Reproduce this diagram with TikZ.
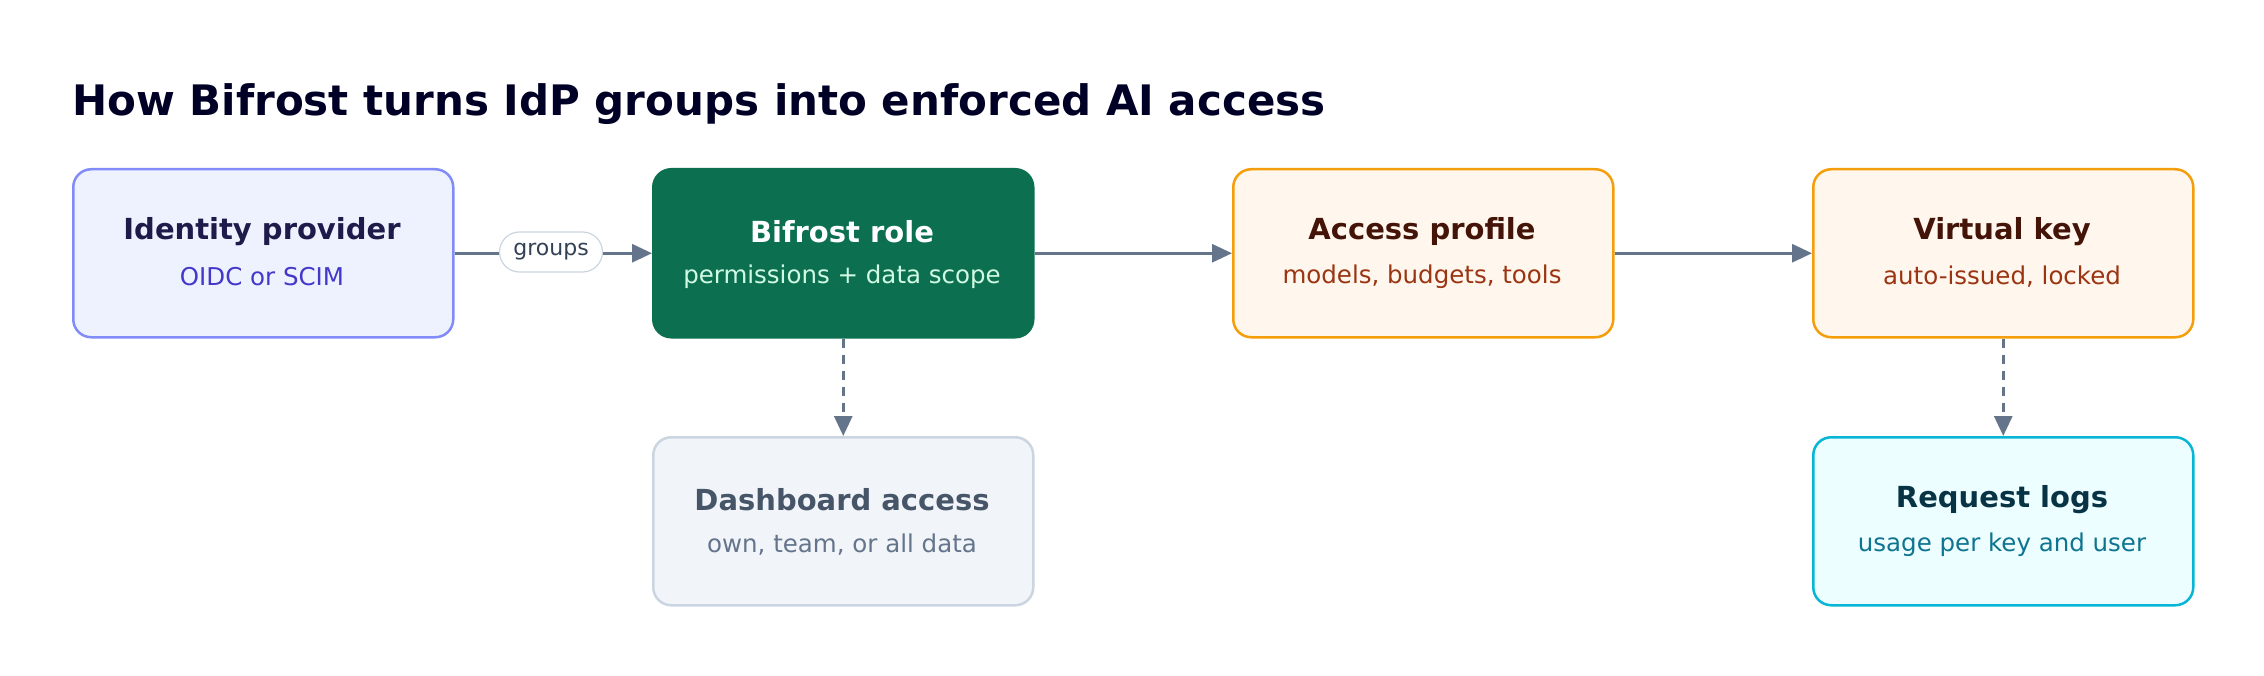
\documentclass[tikz,border=0pt]{standalone}
\usepackage{fontspec}
\setmainfont{DejaVu Sans}
\usetikzlibrary{arrows.meta}
\definecolor{arr}{HTML}{64748B}
\tikzset{
 box/.style={draw, line width=2.5pt, rounded corners=18pt, minimum width=380pt, minimum height=168pt, anchor=north west},
 ttl/.style={font=\fontsize{29}{34}\selectfont\bfseries},
 sub/.style={font=\fontsize{24.5}{28}\selectfont},
 con/.style={draw=arr, line width=3pt, -{Triangle[length=20pt,width=18pt]}},
 dcon/.style={con, dash pattern=on 9pt off 7pt},
}
\begin{document}
\begin{tikzpicture}[x=1pt,y=-1pt]
\useasboundingbox[fill=white] (0,0) rectangle (2264,676);
\node[anchor=west, font=\fontsize{42}{48}\selectfont\bfseries, text=black!85!blue, inner sep=0pt] (title) at (72,104) {How Bifrost turns IdP groups into enforced AI access};
\node[box, draw={rgb,255:red,129;green,140;blue,248}, fill={rgb,255:red,238;green,242;blue,255}] (idp) at (72,168) {};
\node[box, draw={rgb,255:red,12;green,112;blue,80}, fill={rgb,255:red,12;green,112;blue,80}] (role) at (652,168) {};
\node[box, draw={rgb,255:red,245;green,158;blue,11}, fill={rgb,255:red,255;green,247;blue,237}] (prof) at (1232,168) {};
\node[box, draw={rgb,255:red,245;green,158;blue,11}, fill={rgb,255:red,255;green,247;blue,237}] (vkey) at (1812,168) {};
\node[box, draw={rgb,255:red,203;green,213;blue,225}, fill={rgb,255:red,241;green,245;blue,249}] (dash) at (652,436) {};
\node[box, draw={rgb,255:red,6;green,182;blue,212}, fill={rgb,255:red,236;green,254;blue,255}] (logs) at (1812,436) {};
\node[ttl, text={rgb,255:red,30;green,27;blue,75}] (t1) at (262,232) {Identity provider};
\node[sub, text={rgb,255:red,67;green,56;blue,202}] (s1) at (262,277) {OIDC or SCIM};
\node[ttl, text=white] (t2) at (842,232) {Bifrost role};
\node[sub, text={rgb,255:red,209;green,250;blue,229}] (s2) at (842,277) {permissions + data scope};
\node[ttl, text={rgb,255:red,67;green,20;blue,7}] (t3) at (1422,232) {Access profile};
\node[sub, text={rgb,255:red,154;green,52;blue,18}] (s3) at (1422,277) {models, budgets, tools};
\node[ttl, text={rgb,255:red,67;green,20;blue,7}] (t4) at (2002,232) {Virtual key};
\node[sub, text={rgb,255:red,154;green,52;blue,18}] (s4) at (2002,277) {auto-issued, locked};
\node[ttl, text={rgb,255:red,71;green,85;blue,105}] (t5) at (842,500) {Dashboard access};
\node[sub, text={rgb,255:red,100;green,116;blue,139}] (s5) at (842,545) {own, team, or all data};
\node[ttl, text={rgb,255:red,8;green,51;blue,68}] (t6) at (2002,500) {Request logs};
\node[sub, text={rgb,255:red,14;green,116;blue,144}] (s6) at (2002,545) {usage per key and user};
\draw[con] (idp.east) -- (role.west);
\node[draw={rgb,255:red,203;green,213;blue,225}, line width=1.2pt, fill=white, rounded corners=20pt, minimum width=103pt, minimum height=40pt, inner sep=0pt, font=\fontsize{22}{26}\selectfont, text={rgb,255:red,51;green,65;blue,85}] (grp) at (551,252) {groups};
\draw[con] (role.east) -- (prof.west);
\draw[con] (prof.east) -- (vkey.west);
\draw[dcon] (role.south) -- (dash.north);
\draw[dcon] (vkey.south) -- (logs.north);
\end{tikzpicture}
\end{document}
